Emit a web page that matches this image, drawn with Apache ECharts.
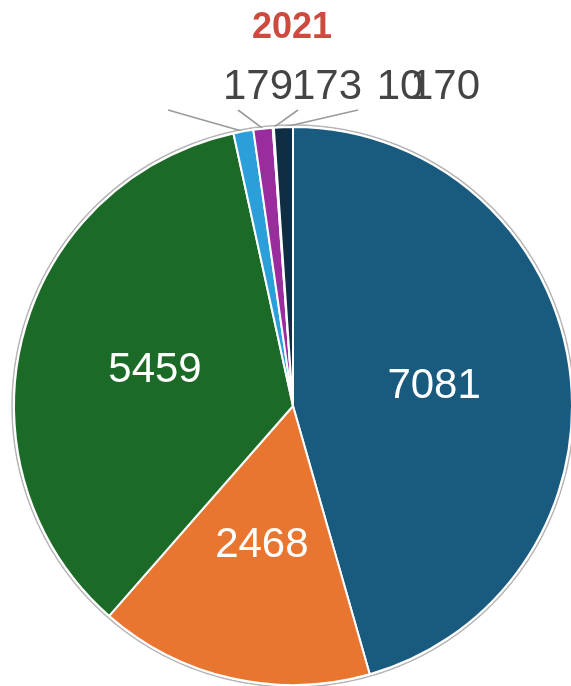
<!DOCTYPE html>
<html>
<head>
<meta charset="utf-8">
<script src="https://cdn.jsdelivr.net/npm/echarts@6/dist/echarts.min.js"></script>
<style>
html,body{margin:0;padding:0;background:#fff;}
#chart{width:571px;height:686px;}
</style>
</head>
<body>
<div id="chart"></div>
<script>
const titleText = '2021';
const categories = ['A', 'B', 'C', 'D', 'E', 'F', 'G'];
const values = [7081, 2468, 5459, 179, 173, 10, 170];
const colors = ['#195a7f', '#e87530', '#1c6a27', '#2b9fd9', '#9a2d9e', '#f3dff3', '#0f2e43'];
const insideIdx = [0, 1, 2];

// placement of the crowded outside labels (text centre) and their line ends
const outsideLabelPos = {3: [258, 87], 4: [327, 87], 5: [400, 87], 6: [445, 87]};
const outsideLineEnd = {3: [168, 110], 4: [238, 110], 5: [298, 110], 6: [358, 110]};

const CX = 293, CY = 406, R = 279;

const data = values.map((v, i) => {
  const inside = insideIdx.includes(i);
  return {
    name: categories[i],
    value: v,
    itemStyle: {color: colors[i]},
    label: inside
      ? {show: true, position: 'inner', color: '#fff', fontSize: 42, fontFamily: 'Liberation Sans, Arial, sans-serif'}
      : {show: true, position: 'outside', color: '#444', fontSize: 42, fontFamily: 'Liberation Sans, Arial, sans-serif'},
    labelLine: {show: !inside, lineStyle: {color: '#9a9a9a', width: 1.6}}
  };
});

const chart = echarts.init(document.getElementById('chart'), null, {renderer: 'canvas'});
chart.setOption({
  animation: false,
  backgroundColor: '#fff',
  title: {
    text: titleText,
    left: 247,
    top: 5,
    textStyle: {color: '#cc4a3e', fontSize: 36, fontWeight: 'bold', fontFamily: 'Liberation Sans, Arial, sans-serif'}
  },
  graphic: [{
    type: 'circle',
    shape: {cx: CX, cy: CY, r: R + 2},
    style: {fill: 'none', stroke: '#b5b5b5', lineWidth: 1.5},
    silent: true,
    z: 0
  }],
  series: [{
    type: 'pie',
    center: [CX, CY],
    radius: [0, R],
    startAngle: 90,
    clockwise: true,
    avoidLabelOverlap: false,
    itemStyle: {borderColor: '#fff', borderWidth: 2},
    label: {formatter: '{c}'},
    labelLine: {length: 10, length2: 10},
    labelLayout: function (p) {
      const i = p.dataIndex;
      if (outsideLabelPos[i]) {
        const start = p.labelLinePoints ? p.labelLinePoints[0] : outsideLineEnd[i];
        return {
          x: outsideLabelPos[i][0],
          y: outsideLabelPos[i][1],
          align: 'center',
          verticalAlign: 'middle',
          labelLinePoints: [start, outsideLineEnd[i], outsideLineEnd[i]]
        };
      }
      return {};
    },
    data: data
  }]
});
</script>
</body>
</html>
